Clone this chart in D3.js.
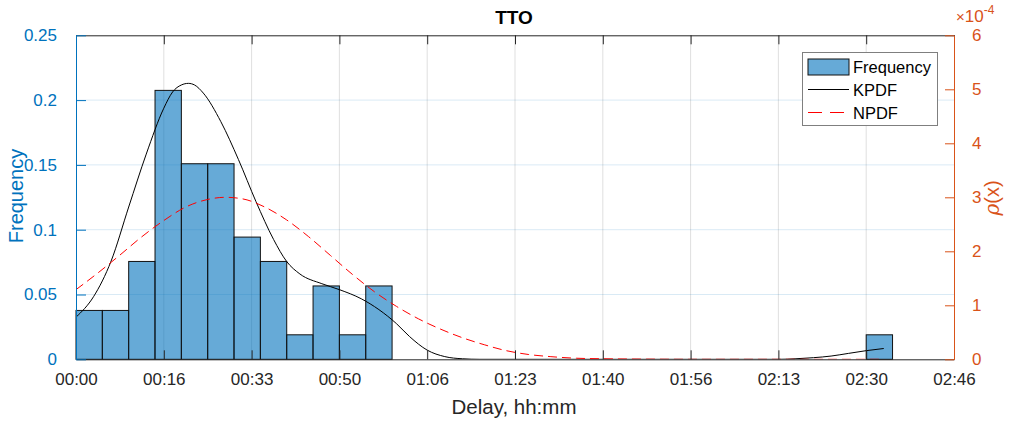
<!DOCTYPE html>
<html>
<head>
<meta charset="utf-8">
<script src="https://cdn.jsdelivr.net/npm/d3@7"></script>
<style>
  body { margin: 0; background: #fff; }
  svg { font-family: "Liberation Sans", Arial, sans-serif; }
</style>
</head>
<body>
<svg width="1009" height="421"></svg>
<script>
// histogram bins (seconds) and relative frequency
const binStarts = [0, 300, 600, 900, 1200, 1500, 1800, 2100, 2400, 2700, 3000, 3300, 9000];
const binWidth = 300;
const freqValues = [0.0377, 0.0377, 0.0755, 0.2075, 0.1509, 0.1509, 0.0943, 0.0755, 0.0189, 0.0566, 0.0189, 0.0566, 0.0189];

// kernel pdf (x in seconds, y in 1e-4)
const kpdfX = [0, 200, 400, 600, 800, 1000, 1100, 1200, 1280, 1350, 1450, 1650, 1850, 2050, 2250, 2400, 2550, 2800, 3000, 3250, 3450, 3650, 3800, 4000, 4200, 4400, 4600, 8000, 8200, 8400, 8600, 8800, 9000, 9200];
const kpdfY = [0.78, 1.16, 1.82, 2.82, 3.80, 4.65, 4.95, 5.08, 5.11, 5.08, 4.93, 4.40, 3.70, 2.92, 2.22, 1.81, 1.58, 1.40, 1.29, 1.12, 0.92, 0.66, 0.42, 0.17, 0.05, 0.01, 0, 0, 0.01, 0.03, 0.06, 0.11, 0.16, 0.20];

// normal pdf
const npdfX = [0, 250, 500, 750, 1000, 1250, 1500, 1700, 1900, 2150, 2400, 2650, 2900, 3150, 3400, 3650, 3900, 4150, 4400, 4650, 4900, 5150, 5400, 5700, 6000, 6500, 7000, 9200];
const npdfY = [1.29, 1.60, 1.93, 2.27, 2.57, 2.82, 2.96, 3.00, 2.97, 2.82, 2.58, 2.27, 1.92, 1.57, 1.25, 0.98, 0.75, 0.56, 0.40, 0.27, 0.16, 0.09, 0.05, 0.02, 0.01, 0.003, 0, 0];

const xTicks = [0, 1000, 2000, 3000, 4000, 5000, 6000, 7000, 8000, 9000, 10000];
const xTickLabels = ["00:00", "00:16", "00:33", "00:50", "01:06", "01:23", "01:40", "01:56", "02:13", "02:30", "02:46"];
const leftTicks = [0, 0.05, 0.1, 0.15, 0.2, 0.25];
const leftTickLabels = ["0", "0.05", "0.1", "0.15", "0.2", "0.25"];
const rightTicks = [0, 1, 2, 3, 4, 5, 6];

const blue = "#0072BD";
const orange = "#D95319";
const dark = "#262626";
const font = "Liberation Sans, Arial, sans-serif";

const svg = d3.select("svg");
const pL = 76, pR = 954, pT = 35.3, pB = 359.3;

const x = d3.scaleLinear().domain([0, 10000]).range([pL, pR]);
const yL = d3.scaleLinear().domain([0, 0.25]).range([pB, pT]);
const yR = d3.scaleLinear().domain([0, 6]).range([pB, pT]);

svg.append("rect").attr("width", 1009).attr("height", 421).attr("fill", "#fff");

// grid
const grid = svg.append("g");
grid.selectAll("line.gx").data(xTicks.slice(1, -1)).join("line")
  .attr("x1", d => x(d)).attr("x2", d => x(d))
  .attr("y1", pT).attr("y2", pB)
  .attr("stroke", dark).attr("stroke-opacity", 0.15);
grid.selectAll("line.gy").data(leftTicks.slice(1, -1)).join("line")
  .attr("x1", pL).attr("x2", pR)
  .attr("y1", d => yL(d)).attr("y2", d => yL(d))
  .attr("stroke", blue).attr("stroke-opacity", 0.15);

// bars
svg.append("g").selectAll("rect").data(freqValues).join("rect")
  .attr("x", (d, i) => x(binStarts[i]))
  .attr("width", (d, i) => x(binStarts[i] + binWidth) - x(binStarts[i]))
  .attr("y", d => yL(d))
  .attr("height", d => yL(0) - yL(d))
  .attr("fill", blue).attr("fill-opacity", 0.6)
  .attr("stroke", "#111").attr("stroke-width", 1);

svg.append("clipPath").attr("id", "clip").append("rect")
  .attr("x", pL).attr("y", pT).attr("width", pR - pL).attr("height", pB - pT);

const line = d3.line().curve(d3.curveMonotoneX)
  .x(d => x(d[0])).y(d => yR(d[1]));

svg.append("path")
  .datum(kpdfX.map((v, i) => [v, kpdfY[i]]))
  .attr("d", line)
  .attr("clip-path", "url(#clip)")
  .attr("fill", "none").attr("stroke", "#000").attr("stroke-width", 1);

svg.append("path")
  .datum(npdfX.map((v, i) => [v, npdfY[i]]))
  .attr("d", line)
  .attr("clip-path", "url(#clip)")
  .attr("fill", "none").attr("stroke", "#ff0000").attr("stroke-width", 1)
  .attr("stroke-dasharray", "9,5");

// axes
const xAxis = d3.axisBottom(x).tickValues(xTicks)
  .tickFormat((d, i) => xTickLabels[i]).tickSizeInner(-9).tickSizeOuter(0).tickPadding(14);
const gx = svg.append("g").attr("transform", `translate(0,${pB})`).call(xAxis);
gx.select(".domain").attr("stroke", dark);
gx.selectAll(".tick line").attr("stroke", dark);
gx.selectAll("text").attr("fill", dark).attr("font-size", 17).attr("font-family", font);

// top edge with ticks
const xTop = d3.axisTop(x).tickValues(xTicks).tickFormat("").tickSizeInner(-9).tickSizeOuter(0);
const gt = svg.append("g").attr("transform", `translate(0,${pT})`).call(xTop);
gt.select(".domain").attr("stroke", dark);
gt.selectAll(".tick line").attr("stroke", dark);

const yAxisL = d3.axisLeft(yL).tickValues(leftTicks)
  .tickFormat((d, i) => leftTickLabels[i]).tickSizeInner(-10).tickSizeOuter(0).tickPadding(19);
const gl = svg.append("g").attr("transform", `translate(${pL},0)`).call(yAxisL);
gl.select(".domain").attr("stroke", blue);
gl.selectAll(".tick line").attr("stroke", blue);
gl.selectAll("text").attr("fill", blue).attr("font-size", 17).attr("font-family", font);

const yAxisR = d3.axisRight(yR).tickValues(rightTicks).tickFormat(d3.format("d"))
  .tickSizeInner(-9).tickSizeOuter(0).tickPadding(18);
const gr = svg.append("g").attr("transform", `translate(${pR},0)`).call(yAxisR);
gr.select(".domain").attr("stroke", orange);
gr.selectAll(".tick line").attr("stroke", orange);
gr.selectAll("text").attr("fill", orange).attr("font-size", 17).attr("font-family", font);

// exponent label
const ex = svg.append("text").attr("x", 956).attr("y", 22).attr("fill", orange)
  .attr("font-size", 17);
ex.append("tspan").attr("font-size", 15).text("×");
ex.append("tspan").text("10");
ex.append("tspan").attr("font-size", 12).attr("dy", -8).text("-4");

// labels
svg.append("text").attr("x", 514).attr("y", 24).attr("text-anchor", "middle")
  .attr("font-weight", "bold").attr("font-size", 19).attr("fill", "#000").text("TTO");

svg.append("text").attr("x", 514).attr("y", 414).attr("text-anchor", "middle")
  .attr("font-size", 20.5).attr("fill", dark).text("Delay, hh:mm");

svg.append("text").attr("transform", "translate(23,196) rotate(-90)")
  .attr("text-anchor", "middle").attr("font-size", 20).attr("fill", blue).text("Frequency");

const rl = svg.append("text").attr("transform", "translate(999,198) rotate(-90)")
  .attr("text-anchor", "middle").attr("font-size", 20).attr("fill", orange);
rl.append("tspan").attr("font-style", "italic").attr("font-family", "DejaVu Serif, serif").text("ρ");
rl.append("tspan").text("(x)");

// legend
const lg = svg.append("g");
lg.append("rect").attr("x", 802.5).attr("y", 52.5).attr("width", 135).attr("height", 73)
  .attr("fill", "#fff").attr("stroke", "#7f7f7f").attr("stroke-width", 1);
lg.append("rect").attr("x", 808).attr("y", 59).attr("width", 41).attr("height", 16)
  .attr("fill", blue).attr("fill-opacity", 0.6).attr("stroke", "#111");
lg.append("line").attr("x1", 808).attr("x2", 849).attr("y1", 89.5).attr("y2", 89.5)
  .attr("stroke", "#000");
lg.append("line").attr("x1", 808).attr("x2", 849).attr("y1", 112.5).attr("y2", 112.5)
  .attr("stroke", "#ff0000").attr("stroke-dasharray", "14,8");
const legendNames = ["Frequency", "KPDF", "NPDF"];
lg.selectAll("text").data(legendNames).join("text")
  .attr("x", 853).attr("y", (d, i) => 73 + i * 23)
  .attr("font-size", 16.5).attr("fill", "#000").text(d => d);
</script>
</body>
</html>
